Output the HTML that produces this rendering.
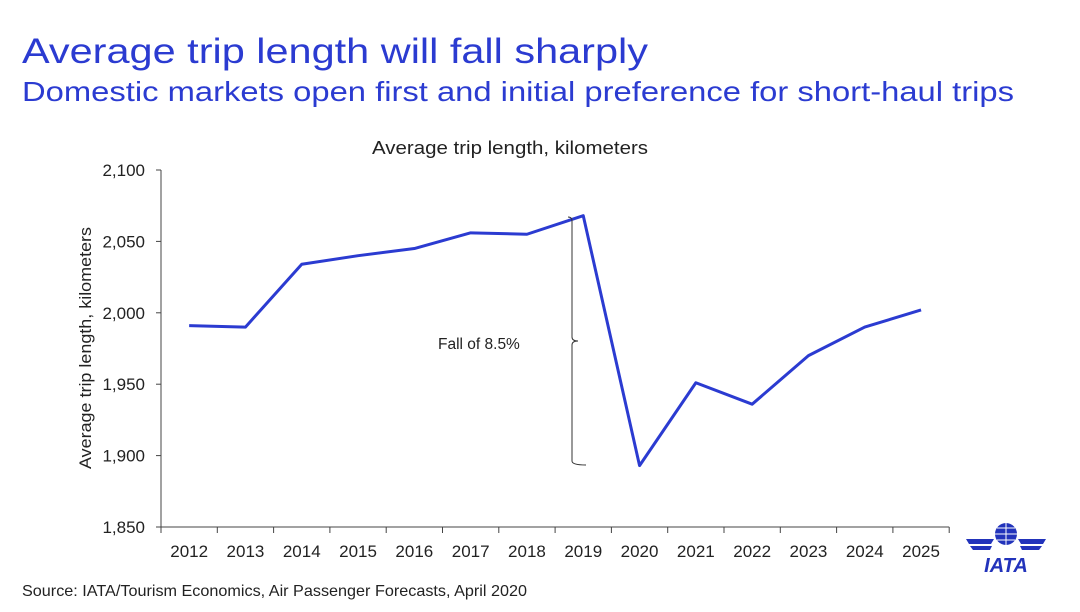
<!DOCTYPE html>
<html><head><meta charset="utf-8"><style>
body{margin:0;background:#fff;width:1080px;height:607px;overflow:hidden;font-family:"Liberation Sans",sans-serif}
</style></head><body>
<svg width="1080" height="607" font-family="Liberation Sans, sans-serif">
<text x="22" y="63" font-size="35" fill="#2b3bd1" textLength="626" lengthAdjust="spacingAndGlyphs">Average trip length will fall sharply</text>
<text x="22" y="101" font-size="28" fill="#2b3bd1" textLength="992" lengthAdjust="spacingAndGlyphs">Domestic markets open first and initial preference for short-haul trips</text>
<text x="372" y="154" font-size="18" fill="#222" textLength="276" lengthAdjust="spacingAndGlyphs">Average trip length, kilometers</text>
<text transform="translate(91,348) rotate(-90)" font-size="16.5" fill="#222" text-anchor="middle" textLength="242" lengthAdjust="spacingAndGlyphs">Average trip length, kilometers</text>
<g id="axes"></g>
<g id="marks"></g>
<g>
<path d="M568,217 Q572,217 572,221 L572,337 Q572,341 578,341 Q572,341 572,345 L572,461 Q572,465 586,465" fill="none" stroke="#333" stroke-width="1"/>
<text x="438" y="349" font-size="15.5" fill="#222">Fall of 8.5%</text>
</g>
<text x="22" y="596" font-size="16" fill="#222" textLength="505" lengthAdjust="spacingAndGlyphs">Source: IATA/Tourism Economics, Air Passenger Forecasts, April 2020</text>
<g>
<circle cx="1006" cy="534" r="11" fill="#2233bb"/>
<path d="M995,534h22M1006,523v22M997,528h18M997,540h18" stroke="#fff" stroke-width="1"/>
<path d="M966,539h28l-3,5h-22zM1046,539h-28l3,5h22zM970,546h22l-2,4h-17zM1042,546h-22l2,4h17z" fill="#2233bb"/>
<text x="1006" y="572" font-size="20" font-weight="bold" font-style="italic" fill="#2233bb" text-anchor="middle">IATA</text>
</g>
</svg>
<script>
const years=["2012","2013","2014","2015","2016","2017","2018","2019","2020","2021","2022","2023","2024","2025"];
const values=[1991,1990,2034,2040,2045,2056,2055,2068,1893,1951,1936,1970,1990,2002];
const yTicks=[1850,1900,1950,2000,2050,2100];
const yTickLabels=["1,850","1,900","1,950","2,000","2,050","2,100"];
const NS="http://www.w3.org/2000/svg";
const x0=161,step=56.3,yTop=170,yBot=527;
const xPos=i=>x0+step*(i+0.5);
const yPos=v=>yBot-(v-1850)/250*(yBot-yTop);
function mk(t,a,p){const e=document.createElementNS(NS,t);for(const k in a)e.setAttribute(k,a[k]);p.appendChild(e);return e;}
const ax=document.getElementById('axes'),mg=document.getElementById('marks');
const xa=mk('line',{x1:x0,y1:yBot,x2:x0+step*years.length,y2:yBot,stroke:'#444','stroke-width':1},ax);


const ya=mk('line',{x1:x0,y1:yTop,x2:x0,y2:yBot,stroke:'#444','stroke-width':1},ax);


yTicks.forEach((v,i)=>{const y=yPos(v);
mk('line',{x1:x0-5,y1:y,x2:x0,y2:y,stroke:'#444'},ax);
const t=mk('text',{x:x0-16,y:y+6,'font-size':17,fill:'#222','text-anchor':'end'},ax);t.textContent=yTickLabels[i];

});
years.forEach((yr,i)=>{const x=x0+step*i;
mk('line',{x1:x,y1:yBot,x2:x,y2:yBot+6,stroke:'#444'},ax);
if(i==years.length-1)mk('line',{x1:x+step,y1:yBot,x2:x+step,y2:yBot+6,stroke:'#444'},ax);
const t=mk('text',{x:xPos(i),y:yBot+30,'font-size':17,fill:'#222','text-anchor':'middle'},ax);t.textContent=yr;

});
const pl=mk('polyline',{points:values.map((v,i)=>xPos(i)+','+yPos(v)).join(' '),fill:'none',stroke:'#2b3bd1','stroke-width':3,'stroke-linejoin':'round'},mg);


</script>
</body></html>
